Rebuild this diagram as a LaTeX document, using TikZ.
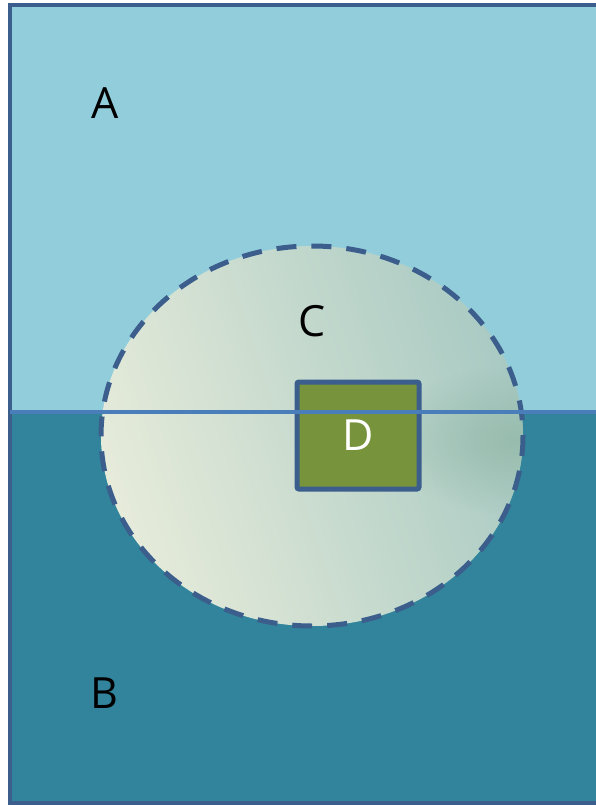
\documentclass[tikz,border=0pt]{standalone}
\usepackage{fontspec}
\setmainfont{Open Sans}
\usetikzlibrary{fadings}

\definecolor{skyblue}{HTML}{92CDDC}
\definecolor{deepteal}{HTML}{31849B}
\definecolor{edgeblue}{HTML}{3B5E8C}
\definecolor{lineblue}{HTML}{4A7EBB}
\definecolor{olivebox}{HTML}{77933C}
\definecolor{paleleft}{HTML}{E6EBDA}
\definecolor{palemid}{HTML}{D6DFC4}
\definecolor{paleright}{HTML}{A9CAC3}
\definecolor{shadeteal}{HTML}{98BCAE}

\tikzfading[name=softspot, inner color=transparent!0, outer color=transparent!100]

\begin{document}
\begin{tikzpicture}[x=1pt, y=-1pt,
		letter/.style={font=\fontsize{43}{50}\selectfont},
		zone/.style={draw=edgeblue, line width=5pt, dash pattern=on 20pt off 15pt}]
		\useasboundingbox (0,0) rectangle (595,805);

		\coordinate (TL) at (10,5);
		\coordinate (ML) at (10,412);
		\coordinate (MR) at (600,412);
		\coordinate (BR) at (600,803);
		\coordinate (O) at (312,436);

		% two layers
		\fill[skyblue] (TL) rectangle (MR);
		\fill[deepteal] (ML) rectangle (BR);
		\draw[edgeblue, line width=4.5pt] (TL) rectangle (BR);

		% the region C
		\shade[left color=paleleft, middle color=palemid, right color=paleright, shading angle=108]
			(O) ellipse (211 and 190);
		\begin{scope}
			\clip (O) ellipse (211 and 190);
			\fill[shadeteal, path fading=softspot] (515,440) ellipse (130 and 75);
		\end{scope}
		\draw[zone] (O) ellipse (211 and 190);

		\node[draw=edgeblue, fill=olivebox, line width=5pt, rounded corners=2pt,
			minimum width=122pt, minimum height=107pt, text=white, letter] (D) at (358,435.5) {D};
		\draw[lineblue, line width=4pt] (ML) -- (MR);

		\node[letter] (A) at (105,103) {A};
		\node[letter] (B) at (104,693) {B};
		\node[letter] (C) at (312,321) {C};
	\end{tikzpicture}
\end{document}
